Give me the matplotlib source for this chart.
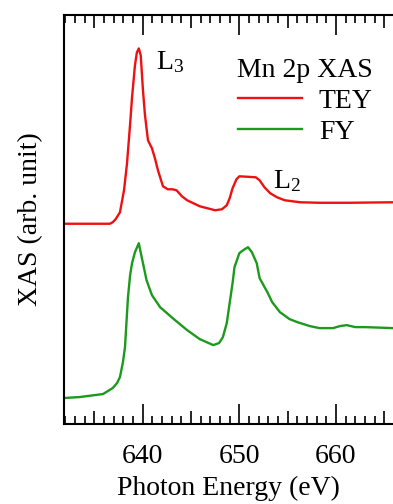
import matplotlib
matplotlib.use("Agg")
import matplotlib.pyplot as plt
from matplotlib.ticker import MultipleLocator, FuncFormatter

plt.rcParams['font.family'] = ['Liberation Serif', 'DejaVu Serif']
plt.rcParams['mathtext.fontset'] = 'custom'
plt.rcParams['mathtext.rm'] = 'Liberation Serif'
plt.rcParams['mathtext.it'] = 'Liberation Serif'
plt.rcParams['mathtext.default'] = 'regular'

# ---- data ----
tey_energy = [631.86, 636.6, 636.9, 637.2, 637.65, 638.07, 638.38, 638.69, 638.9,
              639.2, 639.4, 639.6, 639.8, 640.03, 640.24, 640.55, 640.96, 641.27,
              641.58, 642.1, 642.6, 643.1, 643.5, 644.06, 644.6, 645.9, 647.5,
              648.2, 648.7, 649.0, 649.3, 649.7, 650.0, 650.9, 651.7, 652.1,
              652.6, 653.2, 653.9, 654.7, 656.3, 658.3, 661.4, 665.9]
tey_intensity = [2.00, 2.00, 2.015, 2.045, 2.115, 2.335, 2.605, 2.985, 3.265,
                 3.585, 3.715, 3.755, 3.685, 3.335, 3.085, 2.835, 2.755, 2.655,
                 2.535, 2.375, 2.345, 2.345, 2.335, 2.275, 2.235, 2.175, 2.135,
                 2.145, 2.185, 2.255, 2.355, 2.445, 2.475, 2.47, 2.465, 2.435,
                 2.365, 2.305, 2.265, 2.235, 2.215, 2.21, 2.21, 2.215]

fy_energy = [631.86, 633.5, 635.9, 636.9, 637.35, 637.65, 637.96, 638.17, 638.48,
             638.7, 638.9, 639.2, 639.6, 639.9, 640.4, 640.96, 641.8, 643.1,
             644.6, 645.9, 647.3, 647.9, 648.3, 648.7, 649.0, 649.3, 649.5,
             650.0, 650.4, 650.9, 651.3, 651.8, 652.1, 652.9, 653.4, 654.2,
             655.2, 656.0, 657.3, 658.3, 659.7, 660.4, 661.1, 662.0, 663.0, 665.9]
fy_intensity = [0.255, 0.265, 0.295, 0.355, 0.405, 0.465, 0.615, 0.765, 1.265,
                1.485, 1.605, 1.715, 1.805, 1.665, 1.435, 1.285, 1.165, 1.055,
                0.935, 0.845, 0.785, 0.805, 0.865, 1.005, 1.205, 1.405, 1.565,
                1.705, 1.735, 1.765, 1.715, 1.605, 1.455, 1.315, 1.215, 1.115,
                1.045, 1.015, 0.975, 0.955, 0.955, 0.975, 0.985, 0.965, 0.965, 0.955]

series_labels = ['TEY', 'FY']
legend_title = 'Mn 2p XAS'
xlim = (631.86, 665.9)
ylim = (0.0, 4.09)

FS = 20

fig = plt.figure(figsize=(3.93, 5.04), dpi=100)
ax = fig.add_axes([64/393, 80.5/504, 1 - 64/393, (423.5-15)/504])

ax.plot(tey_energy, tey_intensity, color='#ee1111', lw=1.7, label=series_labels[0],
        solid_joinstyle='round')
ax.plot(fy_energy, fy_intensity, color='#1c9a1c', lw=1.7, label=series_labels[1],
        solid_joinstyle='round')

ax.set_xlim(*xlim)
ax.set_ylim(*ylim)

for s in ['left', 'bottom', 'top']:
    ax.spines[s].set_linewidth(1.5)
ax.spines['right'].set_visible(False)

ax.xaxis.set_major_locator(MultipleLocator(5))
ax.xaxis.set_minor_locator(MultipleLocator(1))
ax.xaxis.set_major_formatter(FuncFormatter(lambda v, p: f"{v:.0f}" if abs(v % 10) < 1e-6 else ""))
ax.tick_params(axis='x', which='both', direction='in', top=True, bottom=True,
               width=1.2, labelsize=FS, pad=15)
ax.tick_params(axis='x', which='minor', length=5.5)
ax.tick_params(axis='y', left=False, labelleft=False)
fig.canvas.draw()
for t in ax.xaxis.get_major_ticks():
    v = t.get_loc()
    ln = 14.5 if abs(v % 10) < 1e-6 else 9.5
    t.tick1line.set_markersize(ln)
    t.tick2line.set_markersize(ln)

ax.set_xlabel('Photon Energy (eV)', fontsize=FS, labelpad=5)
ax.set_ylabel('XAS (arb. unit)', fontsize=FS, labelpad=15)

ax.text(641.4, 3.62, 'L$_3$', fontsize=FS, ha='left', va='center')
ax.text(653.5, 2.43, 'L$_2$', fontsize=FS, ha='left', va='center')

leg = ax.legend(title=legend_title, loc='upper left', bbox_to_anchor=(0.467, 0.942),
                frameon=False, fontsize=FS, title_fontsize=FS, handlelength=2.3,
                handletextpad=0.6, labelspacing=0.2, borderpad=0.2)
leg._legend_box.align = 'right'

fig.savefig('out.png', dpi=100)
